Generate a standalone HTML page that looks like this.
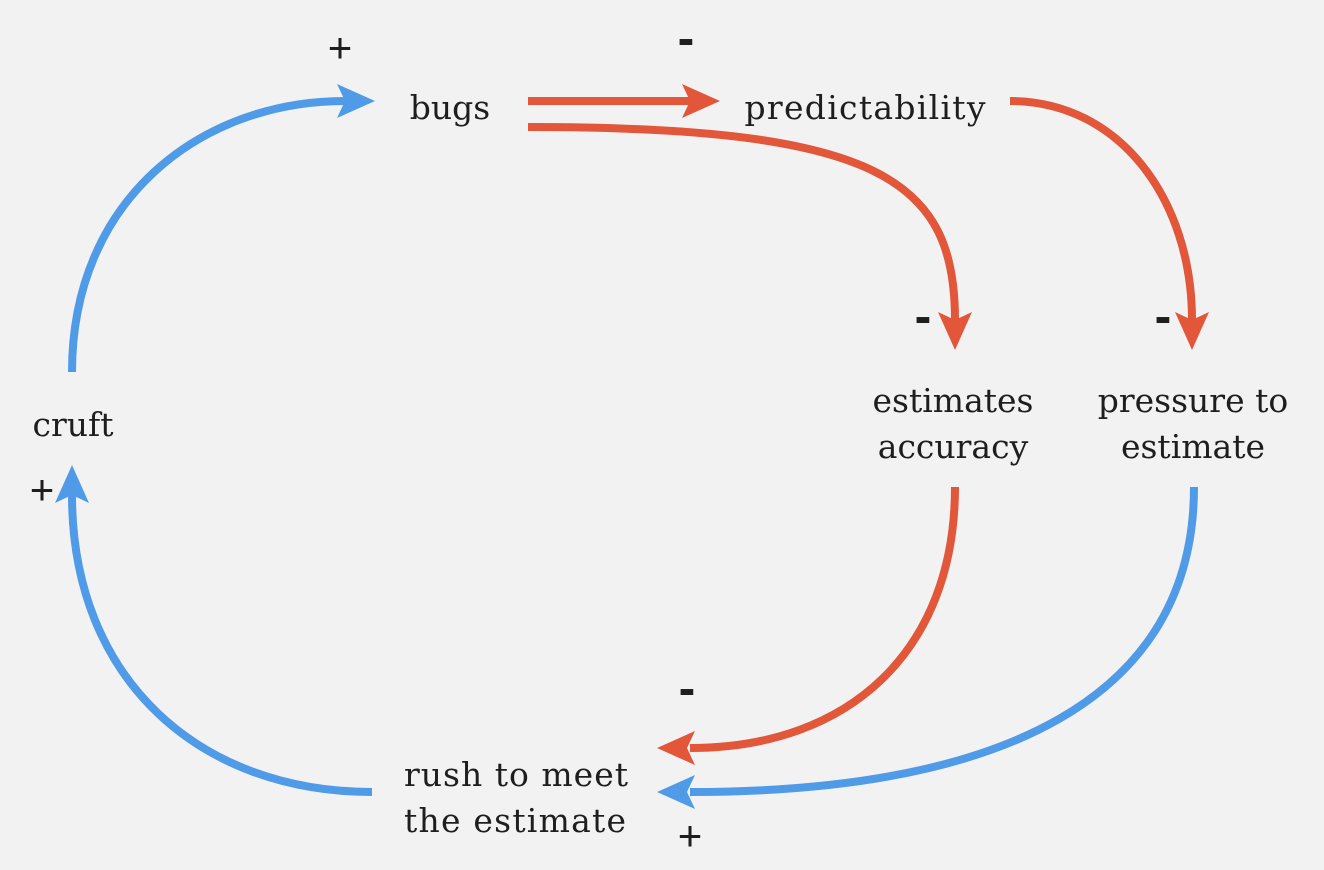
<!DOCTYPE html>
<html><head><meta charset="utf-8"><style>
html,body{margin:0;padding:0;background:#f2f2f2;}
svg{display:block}
.t{font-family:"DejaVu Serif","Liberation Serif",serif;font-size:33px;fill:#1e1e1e}
.s{font-family:"Liberation Sans",sans-serif;font-size:42px;fill:#1e1e1e;text-anchor:middle}
.m{font-family:"Liberation Sans",sans-serif;font-size:50px;fill:#1e1e1e;text-anchor:middle;font-weight:bold}
</style></head><body>
<svg width="1324" height="870" viewBox="0 0 1324 870">
<defs>
<polygon id="ah" points="0,0 -38,-17 -30,0 -38,17"/>
</defs>
<g fill="none" stroke-width="8">
<path d="M72,372 C72,200 200,101 345,101" stroke="#4f9be8"/>
<path d="M528,101 L690,101" stroke="#e2563a"/>
<path d="M528,127 C880,127 955,180 955,320" stroke="#e2563a"/>
<path d="M1010,101 C1120,101 1192,200 1192,320" stroke="#e2563a"/>
<path d="M955,487 C955,650 850,748 690,748" stroke="#e2563a"/>
<path d="M1194,487 C1194,700 1000,792 690,792" stroke="#4f9be8"/>
<path d="M372,792 C200,792 72,680 72,495" stroke="#4f9be8"/>
</g>
<use href="#ah" fill="#4f9be8" transform="translate(375,101)"/>
<use href="#ah" fill="#e2563a" transform="translate(720,101)"/>
<use href="#ah" fill="#e2563a" transform="translate(955,350) rotate(90)"/>
<use href="#ah" fill="#e2563a" transform="translate(1192,350) rotate(90)"/>
<use href="#ah" fill="#e2563a" transform="translate(657,748) rotate(180)"/>
<use href="#ah" fill="#4f9be8" transform="translate(657,792) rotate(180)"/>
<use href="#ah" fill="#4f9be8" transform="translate(72,465) rotate(-90)"/>
<text class="t" x="450" y="119" text-anchor="middle">bugs</text>
<text class="t" x="865" y="119" text-anchor="middle" textLength="241">predictability</text>
<text class="t" x="73" y="436" text-anchor="middle">cruft</text>
<text class="t" x="953" y="412" text-anchor="middle">estimates</text>
<text class="t" x="953" y="458" text-anchor="middle">accuracy</text>
<text class="t" x="1193" y="412" text-anchor="middle">pressure to</text>
<text class="t" x="1193" y="458" text-anchor="middle">estimate</text>
<text class="t" x="404" y="786" textLength="224">rush to meet</text>
<text class="t" x="404" y="832" textLength="222">the estimate</text>
<text class="s" x="340" y="62">+</text>
<text class="m" x="686" y="55">-</text>
<text class="m" x="923" y="333">-</text>
<text class="m" x="1163" y="333">-</text>
<text class="s" x="42" y="504">+</text>
<text class="m" x="687" y="705">-</text>
<text class="s" x="690" y="850">+</text>
</svg>
</body></html>
